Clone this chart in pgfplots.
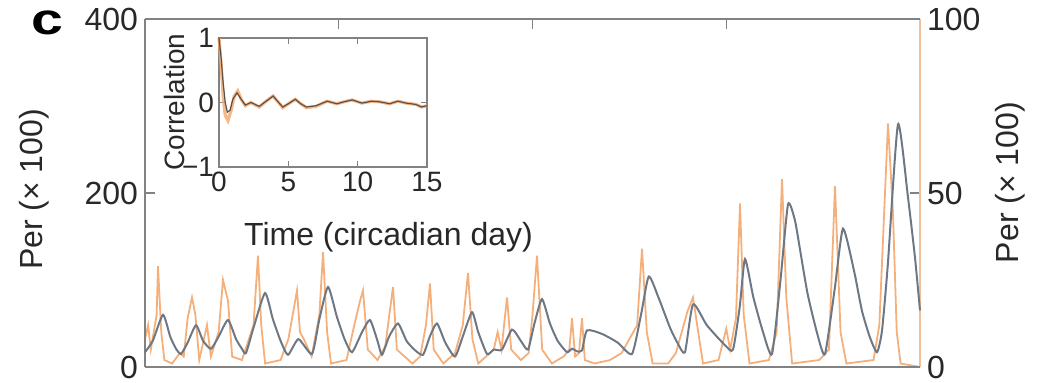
\documentclass[border=0pt]{standalone}
\usepackage{fontspec}
\setmainfont{Liberation Sans}
\usepackage{pgfplots}
\pgfplotsset{compat=1.18}
\definecolor{grayline}{RGB}{110,120,132}
\definecolor{orangeline}{RGB}{243,166,108}
\definecolor{orangeaxis}{RGB}{238,192,155}
\definecolor{framec}{RGB}{130,130,130}
\definecolor{txt}{RGB}{40,40,40}
\definecolor{darkcorr}{RGB}{95,80,70}
\begin{document}
\begin{tikzpicture}
\pgfplotsset{
  base/.style={scale only axis, width=387.5pt, height=174pt, xmin=0, xmax=20, ymin=0,
    clip=false,
    tick label style={font=\fontsize{16}{18}\selectfont, text=txt},
    /pgf/number format/assume math mode=true,
    major tick length=5pt, tick align=inside,
    tick style={framec, line width=0.6pt}},
}
% orange series, right axis
\begin{axis}[base, ymax=100, axis y line*=right, hide x axis,
  ytick={0,50,100}, y axis line style={orangeaxis, line width=0.9pt}]
\addplot[orangeline, line width=0.9pt, opacity=0.9] coordinates {
(0,8) (0.08,12) (0.15,5) (0.3,15) (0.335,29) (0.42,10) (0.5,2) (0.7,1) (0.9,4) (1.0,3)
(1.1,14) (1.213,20) (1.3,15) (1.4,2) (1.6,12) (1.7,3) (1.9,10) (2.013,25) (2.142,19) (2.25,3)
(2.5,2) (2.8,12) (2.916,32) (3.0,12) (3.1,1) (3.5,2) (3.7,8) (3.923,22) (4.0,10) (4.1,8)
(4.3,3) (4.5,15) (4.594,33) (4.7,10) (4.8,1) (5.2,2) (5.4,12) (5.55,19) (5.626,22) (5.75,5)
(6.0,2) (6.2,6) (6.4,23) (6.5,5) (6.9,1) (7.1,3) (7.25,12) (7.355,24) (7.45,5) (7.7,1)
(8.0,4) (8.2,12) (8.335,27) (8.45,8) (8.6,1) (9.0,5) (9.1,10) (9.2,5) (9.342,20) (9.45,5)
(9.7,2) (9.9,4) (10.0,15) (10.116,32) (10.25,5) (10.5,1) (10.8,3) (10.95,5) (11.019,14) (11.1,3)
(11.2,4) (11.277,14) (11.35,2) (11.6,1) (12.0,2) (12.3,4) (12.5,8) (12.7,12) (12.826,34) (12.95,10)
(13.1,1) (13.5,1) (13.7,4) (13.85,10) (14.0,16) (14.142,20) (14.25,12) (14.4,1) (14.8,2) (15.0,11)
(15.1,5) (15.25,14) (15.355,47) (15.45,15) (15.6,1) (16.1,2) (16.3,10) (16.439,54) (16.55,20) (16.7,1)
(17.4,2) (17.65,5) (17.806,52) (17.95,10) (18.1,1) (18.8,2) (18.95,12) (19.174,70) (19.3,45) (19.4,10)
(19.5,1) (20,0)
};
\node[rotate=90, font=\fontsize{16}{18}\selectfont, text=txt] at (rel axis cs:1.116,0.53) {Per (× 100)};
\end{axis}
% gray series, left axis
\begin{axis}[base, ymax=400, axis y line*=left, axis x line*=box,
  ytick={0,200,400}, xtick={5,10,15}, xticklabels={}, xtick pos=right,
  axis line style={framec, line width=0.8pt}]
\addplot[grayline, line width=1.0pt, smooth, tension=0.35] coordinates {
(0,17) (0.2,30) (0.465,60) (0.65,35) (0.8,21) (0.929,15) (1.1,28) (1.316,48) (1.5,30) (1.703,21) (1.9,35)
(2.142,54) (2.35,32) (2.5,21) (2.606,16) (2.8,45) (3.097,85) (3.3,55) (3.5,30) (3.69,14) (3.96,32) (4.31,15) (4.5,55)
(4.723,92) (4.95,58) (5.15,32) (5.342,17) (5.6,40) (5.806,54) (6.0,30) (6.116,14) (6.3,35) (6.529,50) (6.75,30)
(6.95,20) (7.174,14) (7.35,35) (7.535,50) (7.75,28) (8.0,12) (8.2,35) (8.439,63) (8.6,40) (8.826,15) (9.0,20)
(9.213,20) (9.471,43) (9.7,30) (9.884,20) (10.05,50) (10.245,78) (10.45,50) (10.65,30) (10.89,17) (11.019,21) (11.15,18)
(11.277,19) (11.406,42) (11.794,38) (12.2,28) (12.568,15) (12.8,60) (13.0,104) (13.25,80) (13.55,45) (13.75,27) (13.935,17)
(14.142,72) (14.5,48) (14.968,25) (15.174,20) (15.35,70) (15.484,124) (15.7,80) (15.95,40) (16.181,15) (16.4,100) (16.594,187)
(16.77,169) (16.9,136) (17.1,84) (17.35,38) (17.548,15) (17.8,90) (18.013,159) (18.3,110) (18.5,65) (18.7,35)
(18.89,17) (19.02,42) (19.17,118) (19.432,279) (19.69,195) (19.87,126) (20.0,65)
};
\node[rotate=90, font=\fontsize{16}{18}\selectfont, text=txt] at (rel axis cs:-0.143,0.51) {Per (× 100)};
\node[font=\fontsize{22}{24}\selectfont\bfseries, xscale=1.3, inner sep=0pt, text=black] at (rel axis cs:-0.126,0.99) {c};
\end{axis}
% inset
\begin{axis}[scale only axis, at={(37pt,100pt)}, anchor=south west, width=104pt, height=64.5pt,
  xmin=0, xmax=15, ymin=-1, ymax=1, clip=false,
  xtick={0,5,10,15}, xticklabels={0,5,10,15}, ytick={-1,0,1}, yticklabels={−1,0,1},
  tick label style={font=\fontsize{14}{16}\selectfont, text=txt},
  major tick length=3pt, tick align=inside, tick style={framec, line width=0.5pt},
  axis line style={framec, line width=0.8pt},
  xticklabel style={yshift=1pt}, yticklabel style={xshift=1pt}]
\addplot[orangeline, line width=1.6pt, opacity=0.8] coordinates {
(0,1) (0.15,0.6) (0.3,0.1) (0.45,-0.2) (0.65,-0.28) (0.9,-0.1) (1.1,0.1) (1.35,0.18) (1.6,0.05) (1.9,-0.05)
(2.3,0.0) (2.9,-0.07) (3.4,0.02) (3.9,0.1) (4.3,0.0) (4.6,-0.08) (5.0,-0.02) (5.5,0.05) (5.9,-0.02) (6.3,-0.08)
(7.0,-0.06) (7.8,0.02) (8.5,-0.02) (9.0,0.01) (9.6,0.04) (10.3,-0.01) (11.0,0.02) (11.6,0.01) (12.3,-0.02) (12.9,0.02)
(13.5,-0.01) (14.2,-0.03) (14.6,-0.07) (15,-0.05)
};
\addplot[darkcorr, line width=0.6pt] coordinates {
(0,1) (0.15,0.7) (0.3,0.3) (0.45,0.0) (0.6,-0.15) (0.8,-0.12) (1.0,0.05) (1.3,0.15) (1.6,0.05) (1.9,-0.04)
(2.3,0.0) (2.9,-0.06) (3.4,0.02) (3.9,0.1) (4.3,0.0) (4.6,-0.07) (5.0,-0.02) (5.5,0.05) (5.9,-0.02) (6.3,-0.07)
(7.0,-0.05) (7.8,0.02) (8.5,-0.02) (9.0,0.01) (9.6,0.04) (10.3,-0.01) (11.0,0.02) (11.6,0.01) (12.3,-0.02) (12.9,0.02)
(13.5,-0.01) (14.2,-0.03) (14.6,-0.07) (15,-0.05)
};
\node[rotate=90, font=\fontsize{14}{16}\selectfont, text=txt] at (rel axis cs:-0.216,0.504) {Correlation};
\node[font=\fontsize{16}{18}\selectfont, text=txt] at (rel axis cs:0.815,-0.543) {Time (circadian day)};
\end{axis}
\pgfresetboundingbox
\useasboundingbox (-72.5pt,-8pt) rectangle (447pt,183.5pt);
\end{tikzpicture}
\end{document}
